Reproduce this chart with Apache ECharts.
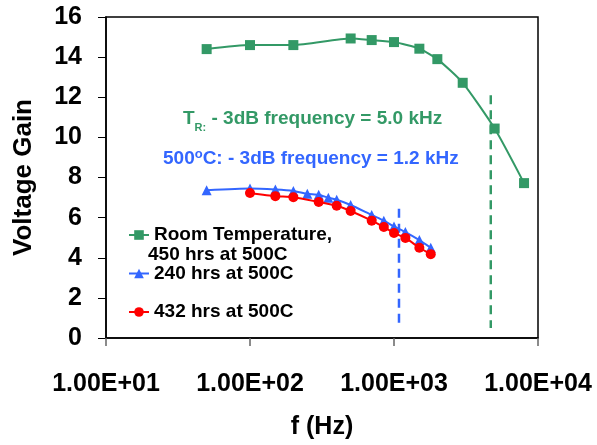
<!DOCTYPE html>
<html>
<head>
<meta charset="utf-8">
<script src="https://cdn.jsdelivr.net/npm/echarts@6/dist/echarts.min.js"></script>
<style>html,body{margin:0;padding:0;background:#fff;}#c{width:597px;height:445px;}</style>
</head>
<body>
<div id="c"></div>
<script>
// Data
const rtFreq = [50, 100, 200, 500, 700, 1000, 1500, 2000, 3000, 5000, 8000];
const rtGain = [14.4, 14.6, 14.6, 14.93, 14.85, 14.75, 14.42, 13.9, 12.72, 10.44, 7.72];
const h240Freq = [50, 100, 150, 200, 250, 300, 350, 400, 500, 700, 850, 1000, 1200, 1500, 1800];
const h240Gain = [7.37, 7.45, 7.40, 7.33, 7.19, 7.14, 6.99, 6.89, 6.63, 6.13, 5.85, 5.56, 5.28, 4.88, 4.50];
const h432Freq = [100, 150, 200, 300, 400, 500, 700, 850, 1000, 1200, 1500, 1800];
const h432Gain = [7.23, 7.07, 7.02, 6.78, 6.59, 6.33, 5.85, 5.53, 5.23, 4.99, 4.50, 4.18];
const rtCutoffX = [4700, 4700];
const rtCutoffY = [12.1, 0.5];
const htCutoffX = [1083, 1083];
const htCutoffY = [6.44, 0.5];
const xTicks = [10, 100, 1000, 10000];
const seriesNames = ['Room Temperature, 450 hrs at 500C', '240 hrs at 500C', '432 hrs at 500C'];

const GREEN = '#339966', BLUE = '#3366FF', RED = '#FF0000';
const FONT = 'Liberation Sans, Arial, sans-serif';
const zip = (a, b) => a.map((v, i) => [v, b[i]]);
function expFmt(v) {
  const e = Math.round(Math.log10(v));
  const m = v / Math.pow(10, e);
  return m.toFixed(2) + 'E' + (e >= 0 ? '+' : '-') + String(Math.abs(e)).padStart(2, '0');
}

const chart = echarts.init(document.getElementById('c'), null, {renderer: 'canvas'});
chart.setOption({
  animation: false,
  backgroundColor: '#fff',
  grid: {left: 106, right: 59, top: 17, bottom: 100, show: true, borderColor: '#000', borderWidth: 1.5, containLabel: false},
  xAxis: {
    type: 'log', logBase: 10, min: 10, max: 10000,
    name: 'f (Hz)', nameLocation: 'middle', nameGap: 77,
    nameTextStyle: {fontFamily: FONT, fontWeight: 'bold', fontSize: 25, color: '#000'},
    axisLine: {show: true, lineStyle: {color: '#000', width: 1.5}},
    axisTick: {show: true, inside: false, length: 8, lineStyle: {color: '#666', width: 1.5}},
    axisLabel: {fontFamily: FONT, fontWeight: 'bold', fontSize: 25, color: '#000', margin: 34,
      formatter: v => xTicks.some(t => Math.abs(t - v) / t < 1e-6) ? expFmt(v) : ''},
    splitLine: {show: false}, minorTick: {show: false}
  },
  yAxis: {
    type: 'value', min: 0, max: 16, interval: 2,
    name: 'Voltage Gain', nameLocation: 'middle', nameGap: 69, nameRotate: 90,
    nameTextStyle: {fontFamily: FONT, fontWeight: 'bold', fontSize: 26, color: '#000'},
    axisLine: {show: true, lineStyle: {color: '#000', width: 1.5}},
    axisTick: {show: true, inside: false, length: 8, lineStyle: {color: '#000', width: 1}},
    axisLabel: {fontFamily: FONT, fontWeight: 'bold', fontSize: 25, color: '#000', margin: 24},
    splitLine: {show: false}
  },
  legend: {
    orient: 'vertical', left: 123, top: 220, itemWidth: 20, itemHeight: 12, itemGap: 18.5,
    data: seriesNames,
    formatter: n => n === seriesNames[0] ? 'Room Temperature,' : n,
    textStyle: {fontFamily: FONT, fontWeight: 'bold', fontSize: 19, color: '#000', lineHeight: 20},
    selectedMode: false
  },
  graphic: [
    {type: 'text', left: 148, top: 245, style: {text: '450 hrs at 500C', font: 'bold 19px ' + FONT, fill: '#000'}},
    {type: 'text', left: 183, top: 109, style: {
      text: '{n|T}{s|R:}{n| - 3dB frequency = 5.0 kHz}',
      rich: {
        n: {fontFamily: FONT, fontWeight: 'bold', fontSize: 19, fill: GREEN, color: GREEN, lineHeight: 22},
        s: {fontFamily: FONT, fontWeight: 'bold', fontSize: 11, fill: GREEN, color: GREEN, verticalAlign: 'bottom', lineHeight: 12, padding: [0, 0, -4, 0]}
      }}},
    {type: 'text', left: 163, top: 148, style: {
      text: '{n|500}{s|o}{n|C: - 3dB frequency = 1.2 kHz}',
      rich: {
        n: {fontFamily: FONT, fontWeight: 'bold', fontSize: 19, fill: BLUE, color: BLUE, lineHeight: 22},
        s: {fontFamily: FONT, fontWeight: 'bold', fontSize: 13, fill: BLUE, color: BLUE, verticalAlign: 'top', lineHeight: 13}
      }}}
  ],
  series: [
    {name: seriesNames[0], type: 'line', data: zip(rtFreq, rtGain), smooth: 0.2,
      symbol: 'rect', symbolSize: 10, itemStyle: {color: GREEN}, lineStyle: {color: GREEN, width: 2}, z: 3},
    {name: seriesNames[1], type: 'line', data: zip(h240Freq, h240Gain), smooth: 0.2,
      symbol: 'triangle', symbolSize: 10, itemStyle: {color: BLUE}, lineStyle: {color: BLUE, width: 2}, z: 3},
    {name: seriesNames[2], type: 'line', data: zip(h432Freq, h432Gain), smooth: 0.2,
      symbol: 'circle', symbolSize: 10, itemStyle: {color: RED}, lineStyle: {color: RED, width: 2}, z: 4},
    {name: 'rtCut', type: 'line', data: zip(rtCutoffX, rtCutoffY), symbol: 'none',
      lineStyle: {color: GREEN, width: 2.5, type: [9, 6]}, silent: true, z: 2},
    {name: 'htCut', type: 'line', data: zip(htCutoffX, htCutoffY), symbol: 'none',
      lineStyle: {color: BLUE, width: 2.5, type: [9, 6]}, silent: true, z: 2}
  ]
});
</script>
</body>
</html>
